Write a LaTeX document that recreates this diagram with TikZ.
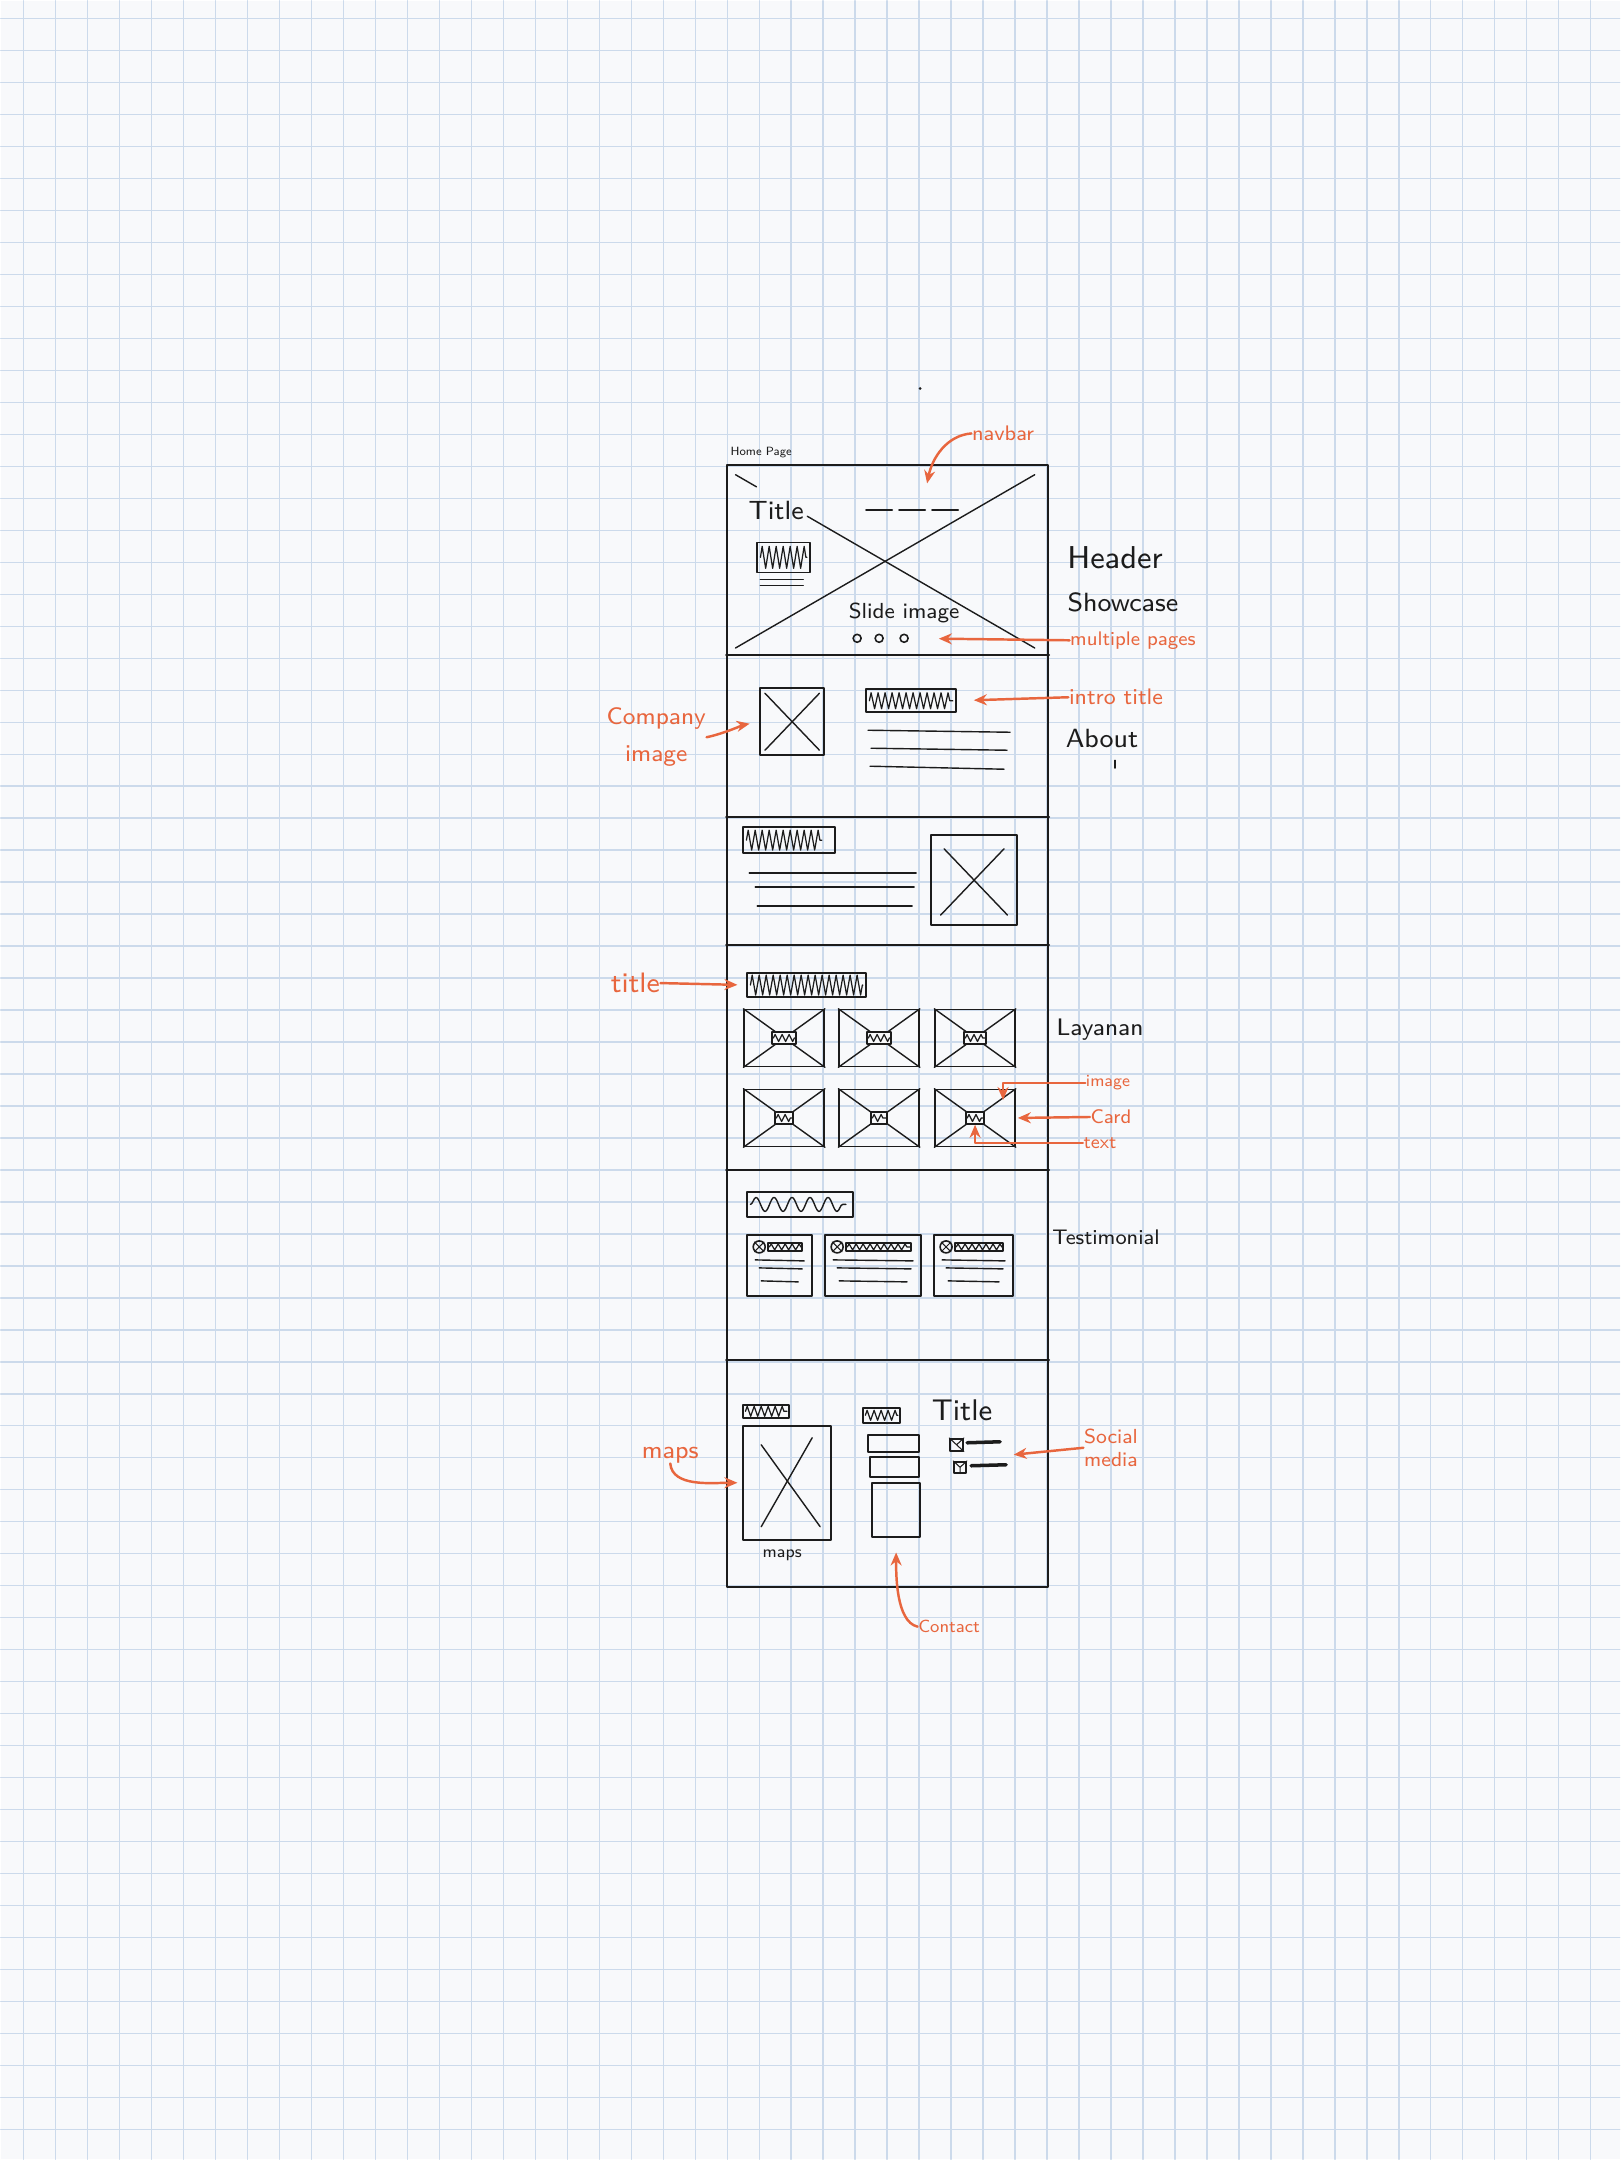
\documentclass[tikz,border=0pt]{standalone}
\usepackage{fontspec}
\usetikzlibrary{arrows.meta,positioning,fit,calc,decorations.pathmorphing}
\definecolor{paper}{HTML}{F8F9FB}
\definecolor{gridblue}{HTML}{CCDAEB}
\definecolor{pencil}{HTML}{1C1C1C}
\definecolor{markred}{HTML}{E8663E}

\begin{document}
\begin{tikzpicture}[
    x=0.1mm, y=-0.1mm,
    line cap=round, line join=round,
    gridline/.style={draw=gridblue, line width=0.4pt},
    frame/.style={draw=pencil, line width=0.6pt},
    box/.style={draw=pencil, line width=0.45pt, inner sep=0pt},
    ink/.style={draw=pencil, line width=0.4pt},
    scrib/.style={draw=pencil, line width=0.35pt, decorate,
      decoration={zigzag, amplitude=#1, segment length=0.7mm}},
    scrib/.default=0.8mm,
    hand/.style={inner sep=0pt, text=pencil, font=\sffamily\fontsize{#1}{#1}\selectfont},
    hand/.default=8,
    note/.style={inner sep=0pt, text=markred, align=center, font=\sffamily\fontsize{#1}{#1}\selectfont},
    note/.default=6,
    arr/.style={draw=markred, line width=0.7pt, -{Stealth[length=1.3mm, width=1.1mm]}}
  ]
    % Paper
    \fill[paper] (0,0) rectangle (1620,2160);
    \foreach \gx in {23,55,...,1591} \draw[gridline] (\gx,0) -- (\gx,2160);
    \foreach \gy in {18,50,...,2130} \draw[gridline] (0,\gy) -- (1620,\gy);
    \useasboundingbox (0,0) rectangle (1620,2160);
    \fill[pencil] (920,388) circle[radius=1.5];

    % Page frame and sections
    \node[frame, inner sep=0pt, fit={(727,465) (1048,1587)}] (page) {};
    \foreach \sy in {655,817,945,1170,1360}
      \draw[frame] (page.west |- 0,\sy) -- (page.east |- 0,\sy);
    \node[hand=3.4] (home) at (761,452) {Home Page};

    % Header showcase
    \node[inner sep=0pt, fit={(736,475) (1034,647)}] (slide) {};
    \draw[ink] (slide.north west) -- ($(slide.north west)!0.07!(slide.south east)$);
    \draw[ink] ($(slide.north west)!0.24!(slide.south east)$) -- (slide.south east);
    \draw[ink] (slide.south west) -- (slide.north east);
    \node[hand=7.5] (title) at (776,510) {Title};
    \node[box, fit={(757,542) (810,572)}] (hdrbtn) {};
    \draw[scrib=1.1mm] ($(hdrbtn.west)+(4,0)$) -- ($(hdrbtn.east)+(-4,0)$);
    \draw[ink] (760,579) -- (803,579);
    \draw[ink] (760,585) -- (803,585);
    \draw[ink, line width=0.6pt, dash pattern=on 2.6mm off 0.7mm] (866,510) -- (958,510);
    \node[hand=6.2] (slidetxt) at (904,613) {Slide image};
    \foreach \dx [count=\di] in {857,879,904}
      \node[box, circle, minimum size=0.8mm] (dot\di) at (\dx,638) {};

    \node[note] (navlbl) at (1003,433) {navbar};
    \coordinate (navtip) at (927,483);
    \draw[arr] (navlbl.west) .. controls +(-25,2) and +(5,-25) .. (navtip);
    \node[hand=9] (header) at (1115,557) {Header};
    \node[hand=7.5] (showcase) at (1123,602) {Showcase};
    \node[note=5.6] (pageslbl) at (1133,640) {multiple pages};
    \draw[arr, shorten >=3mm] (pageslbl.west) -- (dot3.east);

    % About
    \node[box, fit={(760,688) (824,755)}] (compimg) {};
    \draw[ink, shorten <=0.8mm, shorten >=0.8mm] (compimg.north west) -- (compimg.south east);
    \draw[ink, shorten <=0.8mm, shorten >=0.8mm] (compimg.south west) -- (compimg.north east);
    \node[box, fit={(866,689) (956,712)}] (introttl) {};
    \draw[scrib=0.8mm] ($(introttl.west)+(4,0)$) -- ($(introttl.east)+(-4,0)$);
    \draw[ink] (868,730) -- (1010,732);
    \draw[ink] (871,748) -- (1007,750);
    \draw[ink] (870,766) -- (1004,769);
    \node[note, font=\sffamily\fontsize{6.8}{10.5}\selectfont] (complbl) at (656,737) {Company\\image};
    \draw[arr, shorten >=1mm] (complbl.east) .. controls +(15,-3) and +(-15,3) .. (compimg.west);
    \node[note=6.4] (intrlbl) at (1116,697) {intro title};
    \draw[arr, shorten >=1.7mm] (intrlbl.west) -- (introttl.east);
    \node[hand=7.5] (about) at (1102,738) {About};
    \draw[ink, line width=0.3pt] (1115,760) -- (1115,768);

    % Feature block
    \node[box, fit={(743,827) (835,853)}] (featttl) {};
    \draw[scrib=1mm] ($(featttl.west)+(4,0)$) -- ($(featttl.east)+(-14,0)$);
    \draw[ink] (749,873) -- (916,873);
    \draw[ink] (755,887) -- (914,887);
    \draw[ink] (757,906) -- (912,906);
    \node[box, fit={(931,835) (1017,925)}] (featimg) {};
    \draw[ink, shorten <=2mm, shorten >=1.5mm] (featimg.north west) -- (featimg.south east);
    \draw[ink, shorten <=1.5mm, shorten >=2mm] (featimg.south west) -- (featimg.north east);

    % Layanan
    \node[box, fit={(747,973) (866,997)}] (svcttl) {};
    \draw[scrib=1mm] ($(svcttl.west)+(4,0)$) -- ($(svcttl.east)+(-4,0)$);
    \node[note=8] (svclbl) at (635,983) {title};
    \draw[arr, shorten >=0.9mm] (svclbl.east) -- (svcttl.west);
    \foreach \cx/\cy/\tw [count=\ci] in {784/1038/2.4, 879/1038/2.4, 975/1038/2.2,
                                          784/1118/1.8, 879/1118/1.6, 975/1118/1.8} {
      \node[box, minimum width=8mm, minimum height=5.7mm] (card\ci) at (\cx,\cy) {};
      \draw[ink] (card\ci.north west) -- (card\ci.south east);
      \draw[ink] (card\ci.south west) -- (card\ci.north east);
      \node[box, fill=paper, minimum width=\tw mm, minimum height=1.2mm] (cardtxt\ci) at (\cx,\cy) {};
      \draw[scrib=0.35mm] ($(cardtxt\ci.west)+(2,0)$) -- ($(cardtxt\ci.east)+(-2,0)$);
    }
    \node[hand=6.8] (layanan) at (1100,1030) {Layanan};
    \node[note=4.8] (imglbl) at (1108,1083) {image};
    \coordinate (cardimg) at (1003,1100);
    \draw[arr] (imglbl.west) -| (cardimg);
    \node[note=5.6] (cardlbl) at (1111,1117) {Card};
    \draw[arr, shorten >=0.2mm] (cardlbl.west) -- (card6.east);
    \node[note=5.4] (textlbl) at (1100,1143) {text};
    \draw[arr] (textlbl.west) -| (cardtxt6.south);

    % Testimonial
    \node[box, fit={(747,1192) (853,1217)}] (testttl) {};
    \draw[ink, decorate, decoration={snake, amplitude=0.7mm, segment length=1.8mm}]
      ($(testttl.west)+(4,0)$) -- ($(testttl.east)+(-8,0)$);
    \foreach \tl/\tr [count=\tn] in {747/812, 825/921, 934/1013} {
      \node[box, fit={(\tl,1235) (\tr,1296)}] (test\tn) {};
      \node[box, circle, minimum size=1.2mm] (avatar\tn) at (\tl+12,1247) {};
      \draw[ink, line width=0.3pt] (avatar\tn.north west) -- (avatar\tn.south east);
      \draw[ink, line width=0.3pt] (avatar\tn.south west) -- (avatar\tn.north east);
      \node[box, fit={(\tl+21,1243) (\tr-10,1251)}] (quote\tn) {};
      \draw[scrib=0.3mm] ($(quote\tn.west)+(2,0)$) -- ($(quote\tn.east)+(-2,0)$);
      \draw[ink] (\tl+8,1260) -- (\tr-8,1261);
      \draw[ink] (\tl+12,1268) -- (\tr-10,1269);
      \draw[ink] (\tl+14,1281) -- (\tr-14,1282);
    }
    \node[hand=6] (testimonial) at (1106,1237) {Testimonial};

    % Footer
    \node[box, fit={(743,1405) (789,1418)}] (mapttl) {};
    \draw[scrib=0.5mm] ($(mapttl.west)+(3,0)$) -- ($(mapttl.east)+(-3,0)$);
    \node[box, fit={(743,1426) (831,1540)}] (mapbox) {};
    \draw[ink] (761,1445) -- (820,1527);
    \draw[ink] (812,1438) -- (761,1527);
    \node[hand=4.8] (mapcap) at (782,1556) {maps};
    \node[note=7] (mapslbl) at (670,1455) {maps};
    \draw[arr, shorten >=0.5mm] (mapslbl.south) .. controls +(2,24) and +(-30,0) .. (mapbox.west);

    \node[box, fit={(863,1408) (900,1423)}] (contttl) {};
    \draw[scrib=0.5mm] ($(contttl.west)+(3,0)$) -- ($(contttl.east)+(-3,0)$);
    \node[box, fit={(868,1435) (919,1452)}] (field1) {};
    \node[box, fit={(870,1457) (919,1477)}] (field2) {};
    \node[box, fit={(872,1483) (920,1537)}] (field3) {};
    \node[note=5] (contlbl) at (949,1627) {Contact};
    \draw[arr, shorten >=1.5mm] (contlbl.west) .. controls +(-22,-5) and +(0,35) .. (field3.south);

    \node[hand=8.5] (ftitle) at (962,1411) {Title};
    \node[box, fit={(950,1439) (963,1451)}] (soc1) {};
    \draw[ink, line width=0.3pt] (soc1.north west) -- (soc1.south east) (soc1.north east) -- (soc1.center);
    \draw[ink, line width=1pt] (967,1443) -- (1000,1442);
    \node[box, fit={(954,1462) (966,1473)}] (soc2) {};
    \draw[ink, line width=0.3pt] (soc2.north west) -- (soc2.center) -- (soc2.north east) (soc2.center) -- (soc2.south);
    \draw[ink, line width=1pt] (971,1466) -- (1006,1465);
    \node[inner sep=0pt, fit={(soc1) (1006,1473)}] (social) {};
    \node[note, font=\sffamily\fontsize{5.8}{6.5}\selectfont] (soclbl) at (1111,1448) {Social\\media};
    \draw[arr, shorten >=0.7mm] (soclbl.west) -- (social.east);
  \end{tikzpicture}
\end{document}
